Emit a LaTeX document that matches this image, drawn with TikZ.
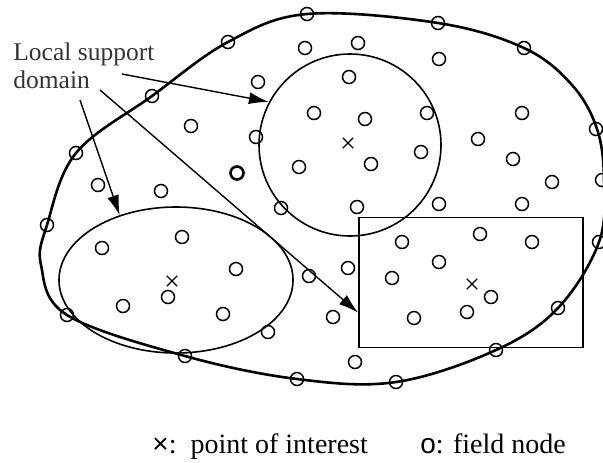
\documentclass[tikz,border=0pt]{standalone}
\usepackage{fontspec}
\setmainfont{Liberation Serif}
\newfontfamily\legendsf{Liberation Sans}
\usetikzlibrary{arrows.meta, shapes.geometric, shapes.misc}

\begin{document}
\begin{tikzpicture}[
    x=0.5pt, y=-0.5pt,
    field/.style={circle, draw, line width=0.75pt, minimum size=6.5pt, inner sep=0pt},
    boldfield/.style={field, line width=1.3pt},
    supportdom/.style={draw, line width=0.8pt, inner sep=0pt},
    poi/.style={cross out, draw, line width=0.65pt, minimum size=4.5pt, inner sep=0pt},
    pointer/.style={line width=0.7pt, -{Latex[length=10pt, width=6pt]}},
  ]
    \useasboundingbox (0,0) rectangle (603,462);

    % problem domain boundary
    \draw[line width=1.3pt] plot[smooth cycle, tension=0.6] coordinates {
      (307,14) (438,23) (524,48) (572,85) (597,129) (604,180) (599,242)
      (558,308) (496,350) (396,382) (297,379) (185,356) (67,315)
      (41,265) (47,225) (76,153) (152,96) (228,42)};

    % local support domains
    \node[supportdom, circle, minimum size=91pt] (circ) at (350,145) {};
    \node[supportdom, ellipse, minimum width=117pt, minimum height=73pt] (ell) at (176,280) {};
    \node[supportdom, rectangle, minimum width=112pt, minimum height=65pt] (rect) at (471,282.5) {};

    % points of interest
    \node[poi] (p1) at (348,143) {};
    \node[poi] (p2) at (172,281) {};
    \node[poi] (p3) at (472,284) {};

    % field nodes
    \foreach \x/\y [count=\i] in {
        307/14, 438/23, 524/48, 596/129, 602/180, 599/242, 558/308, 496/350,
        396/382, 297/379, 185/356, 67/315, 47/225, 76/153, 152/96, 228/42,
        305/48, 358/43, 439/59, 258/82, 349/77, 191/126, 256/137, 314/113,
        365/119, 427/113, 522/113, 478/139, 421/152, 371/164, 299/167,
        513/159, 552/182, 98/185, 161/191, 281/208, 357/207, 439/204,
        522/204, 102/248, 182/237, 236/269, 168/297, 123/306, 223/314,
        268/332, 348/268, 309/276, 333/317, 355/362, 402/242, 480/234,
        532/242, 439/262, 392/278, 491/297, 467/312, 414/318}
      \node[field] (f\i) at (\x,\y) {};
    \node[boldfield] (fb) at (237,173) {};

    % label and pointers
    \node[align=left, anchor=north west, inner sep=0pt, text=black!80,
      font=\fontsize{12.75}{14}\selectfont] (lsd) at (13,42) {Local support\\domain};
    \coordinate (s1) at (122,74);
    \coordinate (s2) at (80,100);
    \coordinate (s3) at (100,90);
    \draw[pointer] (s1) -- (circ.152);
    \draw[pointer] (s2) -- (ell.131);
    \draw[pointer] (s3) -- (rect.195);

    % legend
    \node[anchor=base west, inner sep=0pt, font=\fontsize{14}{16}\selectfont]
      (leg1) at (152,453) {{\legendsf ×}:\ \ point of interest};
    \node[anchor=base west, inner sep=0pt, font=\fontsize{14}{16}\selectfont]
      (leg2) at (420,453) {{\legendsf o}: field node};
\end{tikzpicture}
\end{document}
